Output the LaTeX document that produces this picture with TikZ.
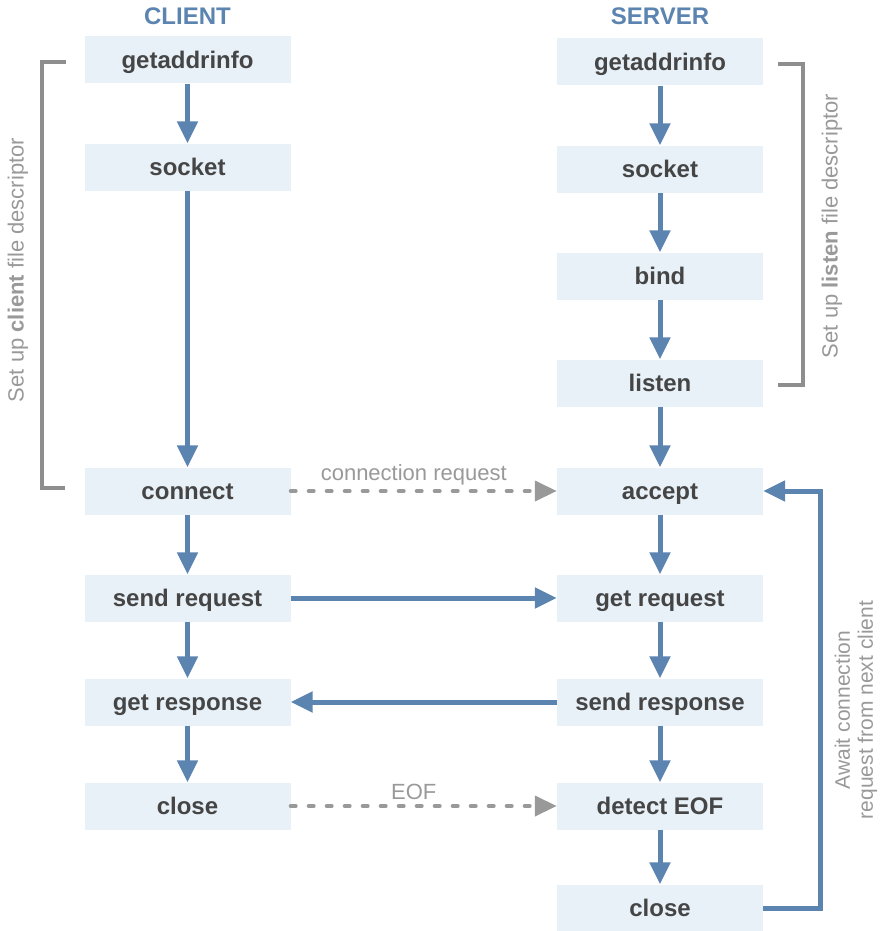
\documentclass[tikz,border=0pt]{standalone}
\usepackage{fontspec}
\setmainfont{Liberation Sans}
\usetikzlibrary{arrows.meta}

\definecolor{sockblue}{HTML}{5B84B0}
\definecolor{boxfill}{HTML}{E8F1F8}
\definecolor{boxtext}{HTML}{454545}
\definecolor{bracegray}{HTML}{8E8E8E}
\definecolor{notegray}{HTML}{999999}

\begin{document}
\begin{tikzpicture}[x=1pt, y=-1pt,
  call/.style={fill=boxfill, minimum width=206pt, minimum height=47pt, inner sep=0pt,
    text=boxtext, font=\fontsize{24}{28}\selectfont\bfseries, text height=17pt, text depth=0pt},
  side/.style={text=sockblue, font=\fontsize{24}{28}\selectfont\bfseries, text height=17pt, text depth=0pt},
  note/.style={text=notegray, font=\fontsize{22}{24}\selectfont},
  flow/.style={draw=sockblue, line width=5pt, -{Triangle[length=22pt, width=20pt]}},
  net/.style={draw=notegray, line width=4pt, line cap=round, dash pattern=on 5pt off 13pt,
    -{Triangle[length=22pt, width=20pt]}},
  brace/.style={draw=bracegray, line width=4pt}]
  \useasboundingbox (0,0) rectangle (881,931);

  \node [side] at (187.5, 16) (client) {CLIENT};
  \node [side] at (660, 16) (server) {SERVER};

  \node [call] at (187.5, 60) (cga) {getaddrinfo};
  \node [call] at (187.5, 167) (csock) {socket};
  \node [call] at (187.5, 491) (cconn) {connect};
  \node [call] at (187.5, 598) (csend) {send request};
  \node [call] at (187.5, 702) (cget) {get response};
  \node [call] at (187.5, 806) (cclose) {close};

  \node [call] at (660, 62) (sga) {getaddrinfo};
  \node [call] at (660, 169) (ssock) {socket};
  \node [call] at (660, 276) (sbind) {bind};
  \node [call] at (660, 383) (slisten) {listen};
  \node [call] at (660, 491) (saccept) {accept};
  \node [call] at (660, 598) (sget) {get request};
  \node [call] at (660, 702) (ssend) {send response};
  \node [call] at (660, 806) (seof) {detect EOF};
  \node [call] at (660, 908) (sclose) {close};

  \draw [flow] (cga) -- (csock);
  \draw [flow] (csock) -- (cconn);
  \draw [flow] (cconn) -- (csend);
  \draw [flow] (csend) -- (cget);
  \draw [flow] (cget) -- (cclose);

  \draw [flow] (sga) -- (ssock);
  \draw [flow] (ssock) -- (sbind);
  \draw [flow] (sbind) -- (slisten);
  \draw [flow] (slisten) -- (saccept);
  \draw [flow] (saccept) -- (sget);
  \draw [flow] (sget) -- (ssend);
  \draw [flow] (ssend) -- (seof);
  \draw [flow] (seof) -- (sclose);

  \draw [flow] (csend) -- (sget);
  \draw [flow] (ssend) -- (cget);
  \draw [flow] (sclose.east) -- (820, 908) |- (saccept.east);

  \draw [net] (cconn) -- node [note, above, inner sep=4pt, xshift=-10pt] {connection request} (saccept);
  \draw [net] (cclose) -- node [note, above, inner sep=4pt, xshift=-10pt] {EOF} (seof);

  \draw [brace] (66, 62) -| (42, 488) -- (65, 488);
  \draw [brace] (778, 64) -| (803, 385) -- (778, 385);

  \node [note, rotate=90] at (18, 270) (clientfd) {Set up \textbf{client} file descriptor};
  \node [note, rotate=90] at (832, 226) (listenfd) {Set up \textbf{listen} file descriptor};
  \node [note, rotate=90, align=center, font=\fontsize{21}{23}\selectfont] at (856, 710) (await)
    {Await connection\\request from next client};
\end{tikzpicture}
\end{document}
